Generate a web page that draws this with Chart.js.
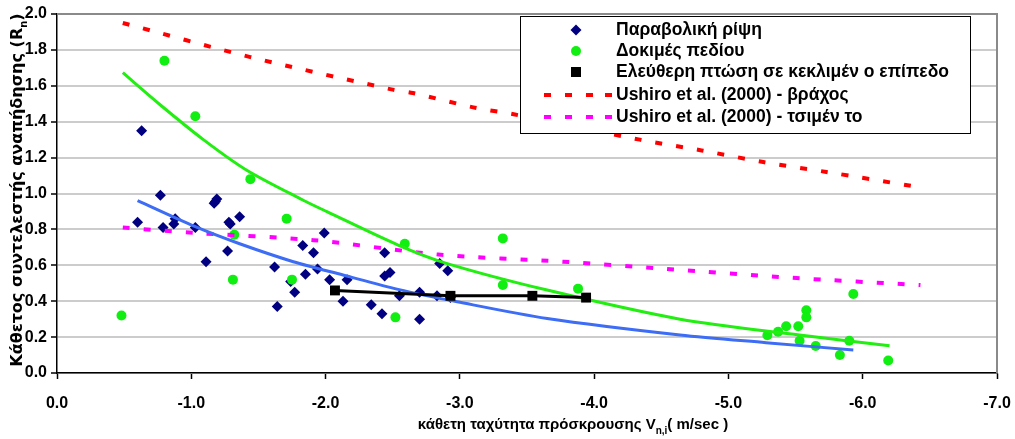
<!DOCTYPE html>
<html><head><meta charset="utf-8">
<script src="https://cdn.jsdelivr.net/npm/chart.js@4.4.0/dist/chart.umd.min.js"></script>
<style>html,body{margin:0;padding:0;background:#fff;overflow:hidden}#wrap{position:relative;width:1015px;height:439px}</style>
</head><body><div id="wrap"><canvas id="c" width="1015" height="439"></canvas></div>
<script>
// Παραβολική ρίψη
const paraV = [-0.60,-0.63,-0.77,-0.79,-0.87,-0.88,-1.03,-1.11,-1.17,-1.18,-1.19,-1.27,-1.28,-1.29,-1.36,-1.62,-1.64,-1.74,-1.77,-1.83,-1.85,-1.91,-1.94,-1.99,-2.03,-2.13,-2.16,-2.34,-2.42,-2.44,-2.44,-2.48,-2.55,-2.70,-2.70,-2.83,-2.85,-2.91,-2.93];
const paraR = [0.84,1.35,0.99,0.81,0.83,0.86,0.81,0.62,0.945,0.955,0.97,0.68,0.84,0.83,0.87,0.59,0.37,0.51,0.45,0.71,0.55,0.67,0.58,0.78,0.52,0.40,0.52,0.38,0.33,0.67,0.54,0.56,0.43,0.45,0.30,0.43,0.61,0.57,0.42];
// Δοκιμές πεδίου
const fieldV = [-0.48,-0.80,-1.03,-1.31,-1.32,-1.44,-1.71,-1.75,-2.52,-2.59,-3.32,-3.32,-3.88,-5.29,-5.37,-5.43,-5.52,-5.53,-5.58,-5.58,-5.65,-5.83,-5.90,-5.93,-6.19];
const fieldR = [0.32,1.74,1.43,0.52,0.77,1.08,0.86,0.52,0.31,0.72,0.75,0.49,0.47,0.21,0.23,0.26,0.26,0.18,0.35,0.31,0.15,0.10,0.18,0.44,0.07];
// Ελεύθερη πτώση σε κεκλιμένο επίπεδο
const fallV = [-2.07,-2.93,-3.54,-3.94];
const fallR = [0.46,0.43,0.43,0.42];
// Ushiro et al. (2000) - βράχος
const rockV = [-0.49,-1.44,-2.49,-2.65,-3.10,-3.41,-4.34,-4.80,-5.26,-5.73,-6.38];
const rockR = [1.95,1.76,1.58,1.56,1.48,1.44,1.30,1.24,1.175,1.12,1.04];
// Ushiro et al. (2000) - τσιμέντο
const cemV = [-0.49,-1.03,-1.91,-2.84,-3.77,-4.54,-5.48,-6.43];
const cemR = [0.81,0.78,0.74,0.66,0.62,0.58,0.53,0.49];
// trend lines
const blueV = [-0.60,-1.03,-1.36,-1.76,-2.13,-2.54,-2.98,-3.65,-4.64,-5.28,-5.93];
const blueR = [0.96,0.815,0.72,0.62,0.546,0.466,0.397,0.304,0.212,0.169,0.128];
const greenV = [-0.49,-0.77,-1.09,-1.41,-1.83,-2.01,-2.54,-2.90,-3.65,-4.64,-5.53,-6.20];
const greenR = [1.673,1.493,1.30,1.131,0.964,0.899,0.713,0.611,0.462,0.30,0.212,0.152];
const xTicks = [0,-1,-2,-3,-4,-5,-6,-7];
const yTicks = [0,0.2,0.4,0.6,0.8,1.0,1.2,1.4,1.6,1.8,2.0];

const legendLabels = ['Παραβολική ρίψη','Δοκιμές πεδίου','Ελεύθερη πτώση σε κεκλιμέν ο επίπεδο','Ushiro et al. (2000) - βράχος','Ushiro et al. (2000) - τσιμέν το'];
const xTitle = ['κάθετη ταχύτητα πρόσκρουσης V','n,i','( m/sec )'];
const yTitle = ['Κάθετος συντελεστής αναπήδησης (R','n',')'];

function pts(xs, ys){ return xs.map((x,i)=>({x:x, y:ys[i]})); }
const FONT = '"Liberation Sans", Arial, sans-serif';
const YFONT = '"DejaVu Sans", Verdana, sans-serif';

const datasets = [
  {label:'blueTrend', data:pts(blueV,blueR), showLine:true, borderColor:'#3d6cf5', borderWidth:3, pointRadius:0, tension:0.3, fill:false, order:1},
  {label:'greenTrend', data:pts(greenV,greenR), showLine:true, borderColor:'#22ee11', borderWidth:3, pointRadius:0, tension:0.3, fill:false, order:2},
  {label:legendLabels[2], data:pts(fallV,fallR), showLine:true, borderColor:'#000', backgroundColor:'#000', borderWidth:3, pointStyle:'rect', pointRadius:7, pointBorderWidth:0, order:0, legend:{type:'rect'}},
  {label:legendLabels[3], data:pts(rockV,rockR), showLine:true, borderColor:'#ff0000', borderWidth:4, borderDash:[7,14], borderCapStyle:'butt', pointRadius:0, tension:0.3, order:3, legend:{type:'line'}},
  {label:legendLabels[4], data:pts(cemV,cemR), showLine:true, borderColor:'#ff00ff', borderWidth:4, borderDash:[7,14], borderCapStyle:'butt', pointRadius:0, tension:0.3, order:3, legend:{type:'line'}},
  {label:legendLabels[0], data:pts(paraV,paraR), showLine:false, backgroundColor:'#000080', borderColor:'#000080', pointStyle:'rectRot', pointRadius:5.5, pointBorderWidth:0, order:5, legend:{type:'rectRot'}},
  {label:legendLabels[1], data:pts(fieldV,fieldR), showLine:false, backgroundColor:'#11ee11', borderColor:'#11ee11', pointStyle:'circle', pointRadius:5, pointBorderWidth:0, order:4, legend:{type:'circle'}},
];

const decor = {
  id:'decor',
  afterDatasetsDraw(chart){
    const ctx = chart.ctx, a = chart.chartArea;
    ctx.save();
    // plot border (top & right)
    ctx.strokeStyle = '#8a8a8a'; ctx.lineWidth = 2;
    ctx.beginPath(); ctx.moveTo(a.left, a.top); ctx.lineTo(a.right, a.top); ctx.lineTo(a.right, a.bottom); ctx.stroke();
    // legend box
    const bx = 520.5, by = 16.5, bw = 450, bh = 117;
    ctx.fillStyle = '#fff'; ctx.fillRect(bx, by, bw, bh);
    ctx.strokeStyle = '#000'; ctx.lineWidth = 1; ctx.strokeRect(bx, by, bw, bh);
    const rows = [30, 51, 72, 95, 117];
    ctx.textBaseline = 'middle'; ctx.textAlign = 'left';
    legendLabels.forEach((lab, i) => {
      const ds = chart.data.datasets.find(d => d.label === lab);
      const y = rows[i];
      const t = ds.legend.type;
      if (t === 'line') {
        ctx.strokeStyle = ds.borderColor; ctx.lineWidth = 4; ctx.setLineDash([7,14]); ctx.lineCap='butt';
        ctx.beginPath(); ctx.moveTo(544, y); ctx.lineTo(612, y); ctx.stroke(); ctx.setLineDash([]);
        ctx.fillStyle = ds.borderColor; ctx.fillRect(605, y-2, 7, 4);
      } else {
        ctx.fillStyle = ds.backgroundColor;
        const cx = 576;
        ctx.beginPath();
        if (t === 'rectRot') { const r = 5.5; ctx.moveTo(cx, y-r); ctx.lineTo(cx+r, y); ctx.lineTo(cx, y+r); ctx.lineTo(cx-r, y); ctx.closePath(); }
        else if (t === 'circle') { ctx.arc(cx, y, 5, 0, Math.PI*2); }
        else { ctx.rect(cx-5, y-5, 10, 10); }
        ctx.fill();
      }
      ctx.fillStyle = '#000';
      ctx.font = 'bold 17.5px ' + FONT;
      ctx.fillText(lab, 616, y);
    });
    // axis titles
    function drawSub(parts, x, y, size, fam){
      const big = 'bold ' + size + 'px ' + fam, small = 'bold ' + Math.round(size*0.65) + 'px ' + fam;
      ctx.font = big; const w0 = ctx.measureText(parts[0]).width;
      ctx.font = small; const w1 = ctx.measureText(parts[1]).width;
      ctx.font = big; const w2 = ctx.measureText(parts[2]).width;
      let sx = x - (w0+w1+w2)/2;
      ctx.textAlign='left'; ctx.textBaseline='alphabetic';
      ctx.font = big; ctx.fillText(parts[0], sx, y); sx += w0;
      ctx.font = small; ctx.fillText(parts[1], sx, y + size*0.3); sx += w1;
      ctx.font = big; ctx.fillText(parts[2], sx, y);
    }
    ctx.fillStyle = '#000';
    drawSub(xTitle, 573, 429, 15, FONT);
    ctx.save(); ctx.translate(22, 190); ctx.rotate(-Math.PI/2);
    drawSub(yTitle, 0, 0, 16, YFONT);
    ctx.restore();
    ctx.restore();
  }
};

new Chart(document.getElementById('c'), {
  type:'scatter',
  data:{datasets},
  options:{
    responsive:false, animation:false, devicePixelRatio:1,
    layout:{padding:{top:14, right:18, left:0, bottom:0}},
    plugins:{legend:{display:false}, tooltip:{enabled:false}},
    scales:{
      x:{type:'linear', min:-7, max:0, reverse:true,
        afterBuildTicks(s){ s.ticks = xTicks.map(v=>({value:v})); },
        afterFit(s){ s.height = 66; s.paddingLeft = 0; s.paddingRight = 0; },
        ticks:{callback:v=>Number(v).toFixed(1), font:{family:FONT, size:16, weight:'bold'}, color:'#000', padding:15, maxRotation:0, autoSkip:false},
        grid:{drawOnChartArea:false, drawTicks:true, tickLength:6, tickColor:'#000', tickWidth:1.5},
        border:{display:true, color:'#000', width:1.5}
      },
      y:{min:0, max:2,
        afterBuildTicks(s){ s.ticks = yTicks.map(v=>({value:v})); },
        afterFit(s){ s.width = 57; s.paddingTop = 0; s.paddingBottom = 0; },
        ticks:{callback:v=>Number(v).toFixed(1), font:{family:FONT, size:16, weight:'bold'}, color:'#000', padding:4, autoSkip:false},
        grid:{color:'#cccccc', lineWidth:2, tickLength:6, tickColor:'#000', tickWidth:1.5},
        border:{display:true, color:'#000', width:1.5}
      }
    }
  },
  plugins:[decor]
});
</script></body></html>
